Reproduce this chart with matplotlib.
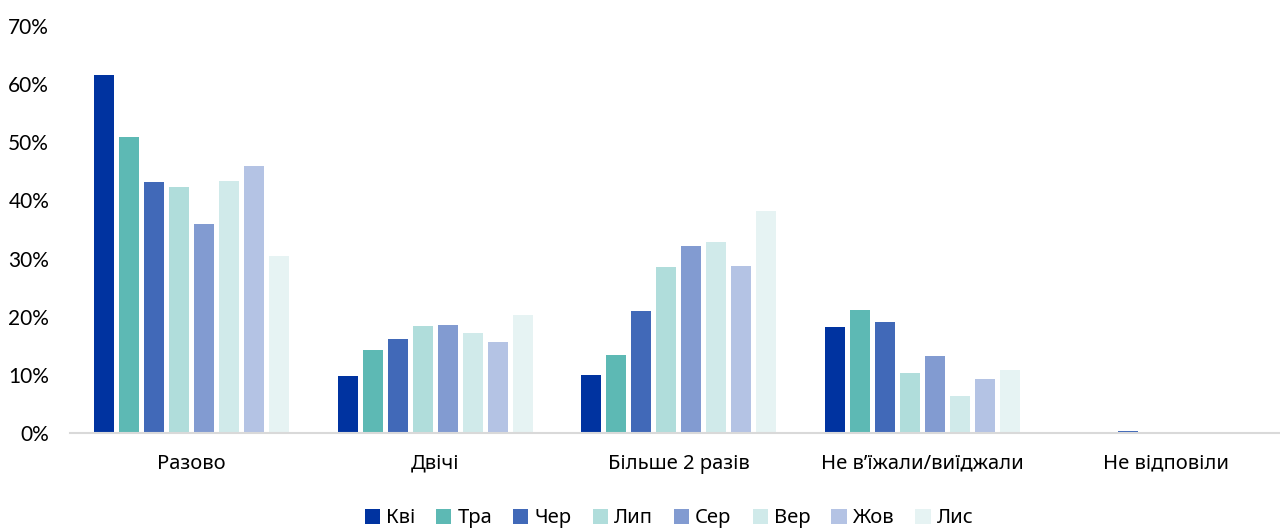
import matplotlib.pyplot as plt
import numpy as np

categories = ['Разово', 'Двічі', 'Більше 2 разів', 'Не в’їжали/виїджали', 'Не відповіли']
months = ['Кві', 'Тра', 'Чер', 'Лип', 'Сер', 'Вер', 'Жов', 'Лис']
kvi = [61.6, 9.8, 10.0, 18.2, 0.0]
tra = [50.9, 14.3, 13.4, 21.2, 0.0]
cher = [43.2, 16.2, 21.0, 19.1, 0.3]
lyp = [42.3, 18.4, 28.6, 10.3, 0.0]
ser = [35.9, 18.6, 32.2, 13.2, 0.0]
ver = [43.3, 17.2, 32.9, 6.4, 0.0]
zhov = [45.9, 15.7, 28.7, 9.3, 0.0]
lys = [30.4, 20.3, 38.2, 10.8, 0.0]
series = [kvi, tra, cher, lyp, ser, ver, zhov, lys]
colors = ['#0033a0', '#5db9b4', '#4169b8', '#b0dddb', '#829bd1', '#d0eaea', '#b4c3e4', '#e6f3f3']

fig = plt.figure(figsize=(12.8, 5.28), dpi=100)
ax = fig.add_axes([70 / 1280, 1 - 433 / 528, 1 - 70 / 1280, (433 - 26) / 528])

x = np.arange(len(categories))
w = 0.1025
for i, (vals, c, m) in enumerate(zip(series, colors, months)):
    ax.bar(x + (i - 3.5) * w, np.array(vals) / 100, width=w * 0.8, color=c, label=m)

ax.set_xlim(-0.5, 4.5 - 0.031)
ax.set_ylim(0, 0.70)
ax.set_yticks(np.arange(0, 0.71, 0.1))
ax.set_yticklabels([f'{int(round(v * 100))}%' for v in np.arange(0, 0.71, 0.1)],
                   fontsize=15, family='Lato')
ax.set_xticks(x)
ax.set_xticklabels(categories, fontsize=14.5, family='Noto Sans')
ax.tick_params(axis='both', length=0, colors='black')
ax.tick_params(axis='x', pad=15)
ax.tick_params(axis='y', pad=15)
for s in ['top', 'right', 'left']:
    ax.spines[s].set_visible(False)
ax.spines['bottom'].set_color('#d9d9d9')
ax.spines['bottom'].set_linewidth(1.5)

ax.legend(loc='center', bbox_to_anchor=(0.495, -0.21), ncol=8, frameon=False,
          prop={'family': 'Noto Sans', 'size': 14.5}, handlelength=0.75, handleheight=0.75,
          handletextpad=0.3, columnspacing=1.05)

fig.savefig('out.png', dpi=100)
